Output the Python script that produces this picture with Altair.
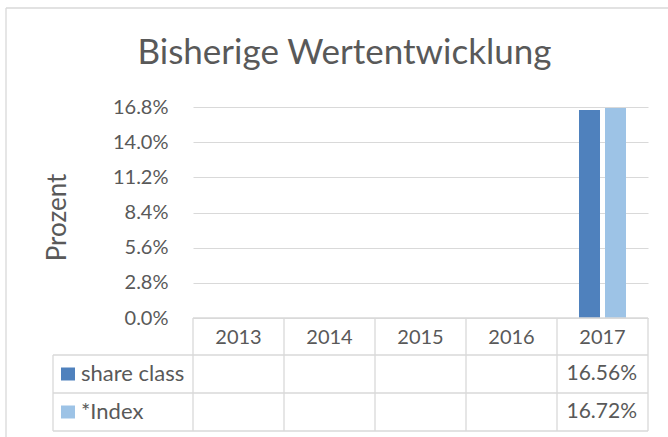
import altair as alt
import pandas as pd

# ---- data ----
years = ["2013", "2014", "2015", "2016", "2017"]
series = ["share class", "*Index"]
share_class = [None, None, None, None, 16.56]
index_vals = [None, None, None, None, 16.72]
y_ticks = [0.0, 2.8, 5.6, 8.4, 11.2, 14.0, 16.8]
colors = ["#4F81BD", "#9DC3E6"]
title_text = "Bisherige Wertentwicklung"
y_title = "Prozent"

rows = []
for s, vals in zip(series, [share_class, index_vals]):
    for yr, v in zip(years, vals):
        rows.append({"year": yr, "series": s, "value": v})
df = pd.DataFrame(rows)
df_valid = df.dropna().copy()
df_valid["label"] = df_valid["value"].map(lambda v: f"{v:.2f}%")
df_years = pd.DataFrame({"year": years})

# ---- layout ----
W, H = 455, 211
STEP = W / len(years)
ROW0 = 37          # header row height
ROWH = 38          # data row height
LEG_LEFT = -140
GRID = "#d9d9d9"
TXT = "#595959"
FONT = "Lato"
FS = 20

xscale = alt.Scale(domain=years, paddingInner=0.4835, paddingOuter=0.24175)
cscale = alt.Scale(domain=series, range=colors)

bars = alt.Chart(df).mark_bar().encode(
    x=alt.X("year:N", scale=xscale, axis=None),
    xOffset=alt.XOffset("series:N", scale=alt.Scale(domain=series, paddingInner=0.1923, paddingOuter=0)),
    y=alt.Y(
        "value:Q",
        scale=alt.Scale(domain=[0, 16.8], nice=False, zero=True),
        axis=alt.Axis(
            values=y_ticks,
            labelExpr="format(datum.value, '.1f') + '%'",
            grid=True, gridColor=GRID, gridWidth=1,
            domain=False, ticks=False,
            labelPadding=25, labelFontSize=FS, labelColor=TXT, labelFont=FONT,
            title=y_title, titleFont=FONT, titleFontSize=26, titleFontWeight="normal",
            titleColor=TXT, titleAngle=270, titleX=-128, titleY=110,
            titleBaseline="alphabetic", titleAlign="center",
        ),
    ),
    color=alt.Color("series:N", scale=cscale, legend=None),
)

one = alt.Data(values=[{"a": 1}])


def rule(x1, x2, y1, y2, color=GRID):
    return alt.Chart(one).mark_rule(color=color, strokeWidth=1.3).encode(
        x=alt.value(x1), x2=alt.value(x2), y=alt.value(y1), y2=alt.value(y2)
    )


lines = []
# header row top
lines.append(rule(0, W, H, H))
# horizontal table lines
for yy in [H + ROW0, H + ROW0 + ROWH, H + ROW0 + 2 * ROWH]:
    lines.append(rule(LEG_LEFT, W, yy, yy))
# vertical column lines
for k in range(len(years) + 1):
    lines.append(rule(k * STEP, k * STEP, H, H + ROW0 + 2 * ROWH))
# legend box left edge
lines.append(rule(LEG_LEFT, LEG_LEFT, H + ROW0, H + ROW0 + 2 * ROWH))
# chart outer border (top and left)
lines.append(rule(-187, W + 40, -99, -99))
lines.append(rule(-187, -187, -99, H + 140))

title = alt.Chart(one).mark_text(
    font=FONT, fontSize=35, fontWeight="normal", color=TXT, align="center", baseline="alphabetic"
).encode(
    x=alt.value(151.5), y=alt.value(-43), text=alt.value(title_text)
)

year_text = alt.Chart(df_years).mark_text(
    font=FONT, fontSize=FS, color=TXT, baseline="middle", align="center"
).encode(
    x=alt.X("year:N", scale=xscale, axis=None),
    y=alt.value(H + ROW0 / 2 + 1),
    text="year:N",
)

layers = [bars] + lines + [title, year_text]

for i, s in enumerate(series):
    yc = H + ROW0 + ROWH * i + ROWH / 2
    sub = df_valid[df_valid["series"] == s]
    layers.append(
        alt.Chart(sub).mark_text(
            font=FONT, fontSize=21, color=TXT, baseline="middle", align="right", dx=STEP / 2 - 11
        ).encode(
            x=alt.X("year:N", scale=xscale, axis=None),
            y=alt.value(yc),
            text="label:N",
        )
    )
    leg = pd.DataFrame({"series": [s]})
    layers.append(
        alt.Chart(leg).mark_rect().encode(
            x=alt.value(LEG_LEFT + 8), x2=alt.value(LEG_LEFT + 22),
            y=alt.value(yc - 6.5), y2=alt.value(yc + 6.5),
            color=alt.Color("series:N", scale=cscale, legend=None),
        )
    )
    layers.append(
        alt.Chart(leg).mark_text(
            font=FONT, fontSize=22, color=TXT, baseline="middle", align="left"
        ).encode(
            x=alt.value(LEG_LEFT + 28), y=alt.value(yc), text="series:N"
        )
    )

chart = alt.layer(*layers).properties(
    width=W, height=H,
    autosize=alt.AutoSizeParams(type="none"),
    padding={"left": 193, "top": 107, "right": 20, "bottom": 119},
    background="white",
).configure_view(stroke=None)

chart.save("out.html", embed_options={"renderer": "svg", "actions": False})
